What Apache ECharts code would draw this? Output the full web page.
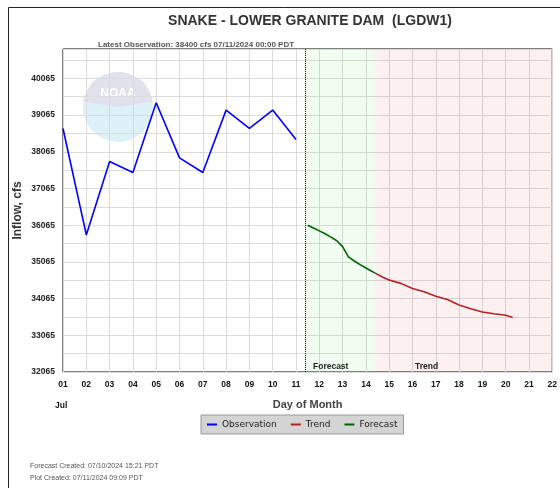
<!DOCTYPE html>
<html><head><meta charset="utf-8">
<script src="https://cdn.jsdelivr.net/npm/echarts@6/dist/echarts.min.js"></script>
<style>html,body{margin:0;padding:0;background:#fff}#c{width:560px;height:488px}</style>
</head><body><div id="c"></div>
<script>
// Day-of-month positions (fractional day, July 2024) and inflow values (cfs)
const obsDays = [1,2,3,4,5,6,7,8,9,10,11];
const obsValues = [38700,35800,37800,37500,39400,37900,37500,39200,38700,39200,38400];
const fcstDays = [11.5,11.75,12,12.25,12.5,12.75,13,13.25,13.5,13.75,14,14.25,14.38];
const fcstValues = [36065,35990,35910,35830,35740,35640,35480,35200,35090,34990,34900,34810,34765];
const trendDays = [14.38,14.75,15,15.5,16,16.5,17,17.5,18,18.5,19,19.5,20,20.3];
const trendValues = [34765,34640,34570,34480,34340,34250,34130,34040,33890,33790,33700,33650,33610,33550];
const xTicks = ['01','02','03','04','05','06','07','08','09','10','11','12','13','14','15','16','17','18','19','20','21','22'];
const nowDay = 11.381;      // plot created 07/11 09:09
const fcstEnd = 14.381;     // forecast window end
const yMin = 32065, yMax = 40865;

const chart = echarts.init(document.getElementById('c'), null, {renderer:'canvas'});
const FF = 'Liberation Sans, Arial, sans-serif';
const toPairs = (xs, ys) => xs.map((x,i)=>[x, ys[i]]);

chart.setOption({
  animation:false,
  backgroundColor:'#fff',
  title:[
    {text:'SNAKE - LOWER GRANITE DAM  (LGDW1)', left:305, top:9, textAlign:'center',
     textStyle:{fontFamily:FF, fontSize:14, fontWeight:'bold', color:'#333'}},
    {text:'Latest Observation: 38400 cfs 07/11/2024 00:00 PDT', left:93, top:36,
     textStyle:{fontFamily:FF, fontSize:8, fontWeight:'bold', color:'#555'}}
  ],
  legend:{
    left:201, top:415, width:208, height:20,
    padding:[5,6,5,6],
    backgroundColor:'#d4d4d4', borderColor:'#999', borderWidth:1, borderRadius:0,
    itemWidth:10, itemHeight:2, itemGap:14, icon:'rect',
    textStyle:{fontFamily:'DejaVu Sans', fontSize:9, color:'#222'},
    data:['Observation','Trend','Forecast']
  },
  grid:{left:63, right:5, top:49, bottom:116, show:true, borderColor:'#000', borderWidth:1},
  xAxis:{
    type:'value', min:1, max:22, interval:1,
    name:'Day of Month', nameLocation:'middle', nameGap:27, nameMoveOverlap:false,
    nameTextStyle:{fontFamily:FF, fontSize:11, fontWeight:'bold', color:'#444'},
    axisLine:{show:false}, axisTick:{show:false},
    axisLabel:{margin:8, fontFamily:FF, fontSize:8.5, fontWeight:'bold', color:'#111',
      formatter:v=>xTicks[Math.round(v)-1] || '', showMaxLabel:true, showMinLabel:true},
    splitLine:{show:true, lineStyle:{color:'#d9d9d9', width:1}}
  },
  yAxis:{
    type:'value', min:yMin, max:yMax, interval:500,
    name:'Inflow, cfs', nameLocation:'middle', nameGap:39, nameRotate:90, nameMoveOverlap:false,
    nameTextStyle:{fontFamily:FF, fontSize:12, fontWeight:'bold', color:'#333'},
    axisLine:{show:false}, axisTick:{show:false},
    axisLabel:{margin:8, fontFamily:FF, fontSize:8.5, fontWeight:'bold', color:'#222',
      formatter:v=>((Math.round(v)-yMin)%1000===0 ? String(Math.round(v)) : '')},
    splitLine:{show:true, lineStyle:{color:'#dcdcdc', width:1}}
  },
  graphic:[
    {type:'rect', shape:{x:8.5,y:7.5,width:600,height:600}, style:{fill:null, stroke:'#222', lineWidth:1}, z:-5, silent:true},
    {type:'group', left:83, top:72, z:1, silent:true, children:[
      {type:'circle', shape:{cx:35,cy:35,r:35}, style:{fill:'#ddf1f9'}},
      {type:'sector', shape:{cx:35,cy:35,r:35,r0:0,startAngle:Math.PI*1.05,endAngle:Math.PI*1.95}, style:{fill:'#e0e1ea'}},
      {type:'rect', shape:{x:7,y:8,width:56,height:20,r:8}, style:{fill:'#e0e1ea'}},
      {type:'text', style:{x:35,y:22,text:'NOAA', textAlign:'center', textVerticalAlign:'middle', fontFamily:FF, fontSize:12, fontWeight:'bold', fill:'#fff'}}
    ]},
    {type:'text', left:313, top:362, style:{text:'Forecast', fontFamily:FF, fontSize:8.5, fontWeight:'bold', fill:'#222'}, z:5},
    {type:'text', left:415, top:362, style:{text:'Trend', fontFamily:FF, fontSize:8.5, fontWeight:'bold', fill:'#222'}, z:5},
    {type:'text', left:55, top:401, style:{text:'Jul', fontFamily:FF, fontSize:8.5, fontWeight:'bold', fill:'#111'}},
    {type:'text', left:30, top:463, style:{text:'Forecast Created: 07/10/2024 15:21 PDT', fontFamily:FF, fontSize:7, fill:'#555'}},
    {type:'text', left:30, top:475, style:{text:'Plot Created: 07/11/2024 09:09 PDT', fontFamily:FF, fontSize:7, fill:'#555'}}
  ],
  series:[
    {name:'Observation', type:'line', data:toPairs(obsDays, obsValues), showSymbol:false,
     lineStyle:{color:'#0000ff', width:1.6}, itemStyle:{color:'#0000ff'}, z:4,
     markArea:{silent:true, data:[
       [{xAxis:nowDay, itemStyle:{color:'rgba(40,220,40,0.07)'}},{xAxis:fcstEnd}],
       [{xAxis:fcstEnd, itemStyle:{color:'rgba(235,60,60,0.08)'}},{xAxis:22}]
     ]},
     markLine:{silent:true, symbol:'none', label:{show:false},
       lineStyle:{color:'#000', type:[1,1], width:1}, data:[{xAxis:nowDay}]}
    },
    {name:'Trend', type:'line', data:toPairs(trendDays, trendValues), showSymbol:false,
     lineStyle:{color:'#b22222', width:1.6}, itemStyle:{color:'#b22222'}, z:4},
    {name:'Forecast', type:'line', data:toPairs(fcstDays, fcstValues), showSymbol:false,
     lineStyle:{color:'#006400', width:1.6}, itemStyle:{color:'#006400'}, z:4}
  ]
});
</script></body></html>
